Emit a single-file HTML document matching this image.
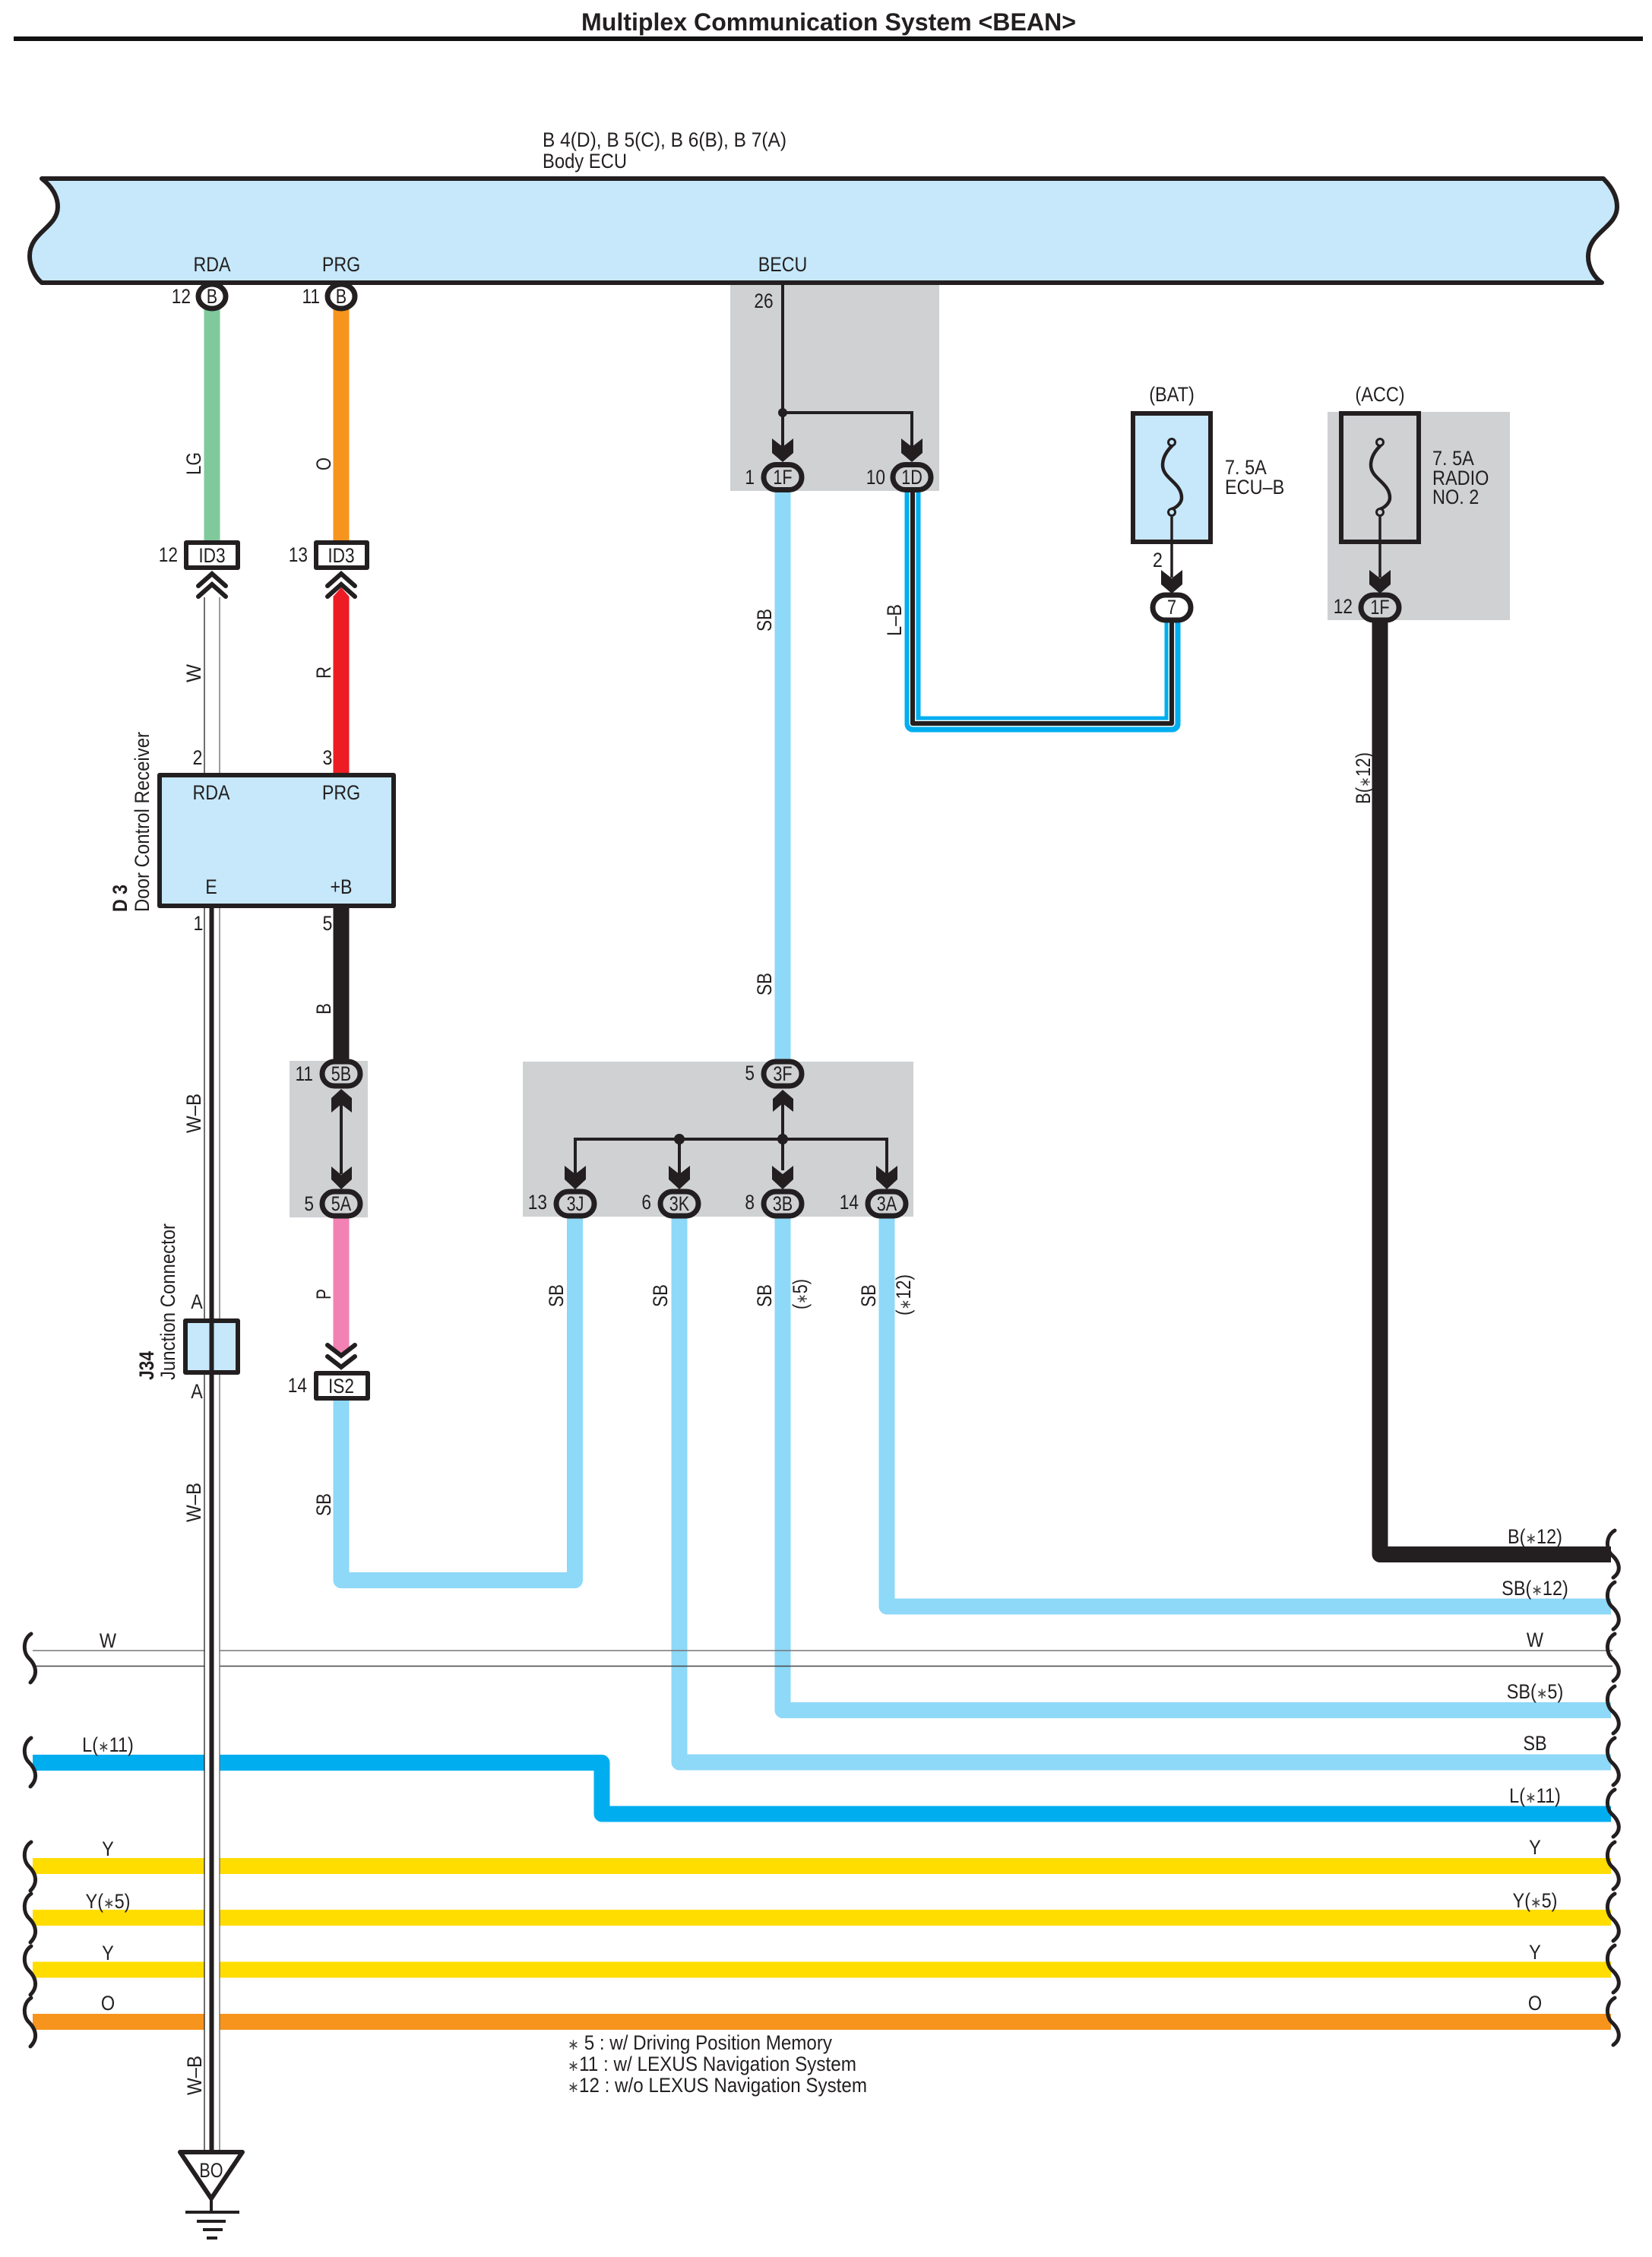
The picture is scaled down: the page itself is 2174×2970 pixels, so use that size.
<!DOCTYPE html>
<html><head><meta charset="utf-8"><title>Multiplex Communication System &lt;BEAN&gt;</title>
<style>
html,body{margin:0;padding:0;background:#fff}
svg{display:block}
text{font-family:"Liberation Sans","DejaVu Sans",sans-serif;font-size:27px;fill:#231F20}
tspan{font-size:20px;fill:#444}
.c{text-anchor:middle}.r{text-anchor:end}.b{font-weight:bold}
.w{fill:none;stroke-linejoin:round;stroke-width:21}
.k{fill:none;stroke:#231F20;stroke-width:4}
.p{stroke:#231F20;stroke-width:7;fill:#CFD1D3}
.n{fill:none;stroke:#231F20;stroke-width:5;stroke-linecap:round}
</style></head><body>
<svg xmlns="http://www.w3.org/2000/svg" width="2174" height="2970" viewBox="0 0 2174 2970">
<rect width="2174" height="2970" fill="#fff"/>
<!-- title -->
<text class="b" x="765" y="40" style="font-size:32px" textLength="651" lengthAdjust="spacingAndGlyphs">Multiplex Communication System &lt;BEAN&gt;</text>
<rect x="18" y="48" width="2144" height="6" fill="#111"/>
<!-- gray boxes -->
<g fill="#CFD1D3">
<rect x="961" y="372" width="275" height="274"/>
<rect x="1747" y="542" width="240" height="274"/>
<rect x="381" y="1396" width="103" height="206"/>
<rect x="688" y="1397" width="514" height="204"/>
</g>
<!-- Body ECU -->
<text x="714" y="193" textLength="321" lengthAdjust="spacingAndGlyphs">B 4(D), B 5(C), B 6(B), B 7(A)</text>
<text x="714" y="221" textLength="111" lengthAdjust="spacingAndGlyphs">Body ECU</text>
<path d="M55,235 C68,245 76,258 76,272 C76,300 39,305 39,337 C39,350 46,365 55,372 L2108,372 C2098,365 2090,352 2090,338 C2090,305 2128,300 2128,272 C2128,258 2120,245 2110,235 Z" fill="#C6E8FA" stroke="#231F20" stroke-width="6" stroke-linejoin="round"/>
<g>
<text class="c" transform="matrix(.86 0 0 1 279 357)">RDA</text>
<text class="c" transform="matrix(.86 0 0 1 449 357)">PRG</text>
<text class="c" transform="matrix(.86 0 0 1 1030 357)">BECU</text>
</g>
<!-- colored vertical wires -->
<path class="w" stroke="#80C99B" d="M279,405V714"/>
<path class="w" stroke="#F7941D" d="M449,405V714"/>
<polygon fill="#ED1C24" points="438.5,1020 438.5,785 449,773 459.5,785 459.5,1020"/>
<path class="w" stroke="#231F20" d="M449,1192V1400"/>
<polygon fill="#F282B4" points="438.5,1600 459.5,1600 459.5,1772 449,1782 438.5,1772"/>
<!-- SB wires -->
<g>
<path class="w" stroke="#8ED8F8" d="M449,1843V2079.5H756.5V1600"/>
<path class="w" stroke="#8ED8F8" d="M1030,645V1396"/>
<path class="w" stroke="#8ED8F8" d="M894,1600V2319H2120"/>
<path class="w" stroke="#8ED8F8" d="M1030,1600V2250.5H2120"/>
<path class="w" stroke="#8ED8F8" d="M1167,1600V2114H2120"/>
<path class="w" stroke="#231F20" d="M1816,816V2045.5H2120"/>
<path class="w" stroke="#00AEEF" d="M1201,645V953H1543V816"/>
<path fill="none" stroke="#E8F6FC" stroke-width="9" stroke-linejoin="round" d="M1201,645V952H1542V816"/>
<path fill="none" stroke="#231F20" stroke-width="6" stroke-linejoin="round" d="M1201,645V952H1542V816"/>
<!-- W pair horizontal -->
<path d="M43,2172H2122" stroke="#777" stroke-width="1.5" fill="none"/>
<path d="M43,2192.5H2122" stroke="#444" stroke-width="1.5" fill="none"/>
<path class="w" stroke="#00AEEF" d="M43,2319.5H792V2387H2120"/>
<path class="w" stroke="#FFDD00" d="M43,2455.5H2120"/>
<path class="w" stroke="#FFDD00" d="M43,2523.5H2120"/>
<path class="w" stroke="#FFDD00" d="M43,2592H2120"/>
<path class="w" stroke="#F7941D" d="M43,2660.5H2120"/>
</g>
<!-- W-B vertical pair and W wire -->
<rect x="269" y="786" width="20" height="2050" fill="#fff"/>
<path d="M269,786V2836" stroke="#222" stroke-width="1.3"/>
<path d="M289,786V2836" stroke="#666" stroke-width="1.3"/>
<rect x="275.5" y="1195" width="6" height="1640" fill="#231F20"/>
<!-- wave breaks left -->
<g>
<path class="n" d="M41,2150 C30,2157 30,2174 38,2182 C48,2192 50,2204 40,2214"/>
<path class="n" d="M41,2287 C30,2294 30,2311 38,2319 C48,2329 50,2341 40,2351"/>
<path class="n" d="M41,2424 C30,2431 30,2448 38,2456 C48,2466 50,2478 40,2488"/>
<path class="n" d="M41,2492 C30,2499 30,2516 38,2524 C48,2534 50,2546 40,2556"/>
<path class="n" d="M41,2561 C30,2568 30,2585 38,2593 C48,2603 50,2615 40,2625"/>
<path class="n" d="M41,2629 C30,2636 30,2653 38,2661 C48,2671 50,2683 40,2693"/>
<!-- wave breaks right -->
<path class="n" d="M2125,2014 C2113,2021 2113,2038 2121,2046 C2132,2056 2134,2068 2123,2076"/>
<path class="n" d="M2125,2082 C2113,2089 2113,2106 2121,2114 C2132,2124 2134,2136 2123,2144"/>
<path class="n" d="M2125,2150 C2113,2157 2113,2174 2121,2182 C2132,2192 2134,2204 2123,2212"/>
<path class="n" d="M2125,2219 C2113,2226 2113,2243 2121,2251 C2132,2261 2134,2273 2123,2281"/>
<path class="n" d="M2125,2287 C2113,2294 2113,2311 2121,2319 C2132,2329 2134,2341 2123,2349"/>
<path class="n" d="M2125,2355 C2113,2362 2113,2379 2121,2387 C2132,2397 2134,2409 2123,2417"/>
<path class="n" d="M2125,2424 C2113,2431 2113,2448 2121,2456 C2132,2466 2134,2478 2123,2486"/>
<path class="n" d="M2125,2492 C2113,2499 2113,2516 2121,2524 C2132,2534 2134,2546 2123,2554"/>
<path class="n" d="M2125,2560 C2113,2567 2113,2584 2121,2592 C2132,2602 2134,2614 2123,2622"/>
<path class="n" d="M2125,2629 C2113,2636 2113,2653 2121,2661 C2132,2671 2134,2683 2123,2691"/>
</g>
<!-- thin black connection lines -->
<path class="k" d="M1030,372V590M1030,543H1200V590"/>
<circle cx="1030" cy="543" r="6" fill="#231F20"/>
<path class="k" d="M1030,1450V1540M757,1555V1499H1167V1555M894,1499V1555"/>
<circle cx="894" cy="1499" r="7" fill="#231F20"/><circle cx="1030" cy="1499" r="7" fill="#231F20"/>
<path class="k" d="M449,1450V1545"/>
<!-- arrowheads -->
<g fill="#231F20">
<polygon points="1016,577 1030,588 1044,577 1044,596 1030,608 1016,596"/>
<polygon points="1186,577 1200,588 1214,577 1214,596 1200,608 1186,596"/>
<polygon points="1528,750 1542,761 1556,750 1556,769 1542,781 1528,769"/>
<polygon points="1802,750 1816,761 1830,750 1830,769 1816,781 1802,769"/>
<polygon points="436,1464 449,1453 463,1464 463,1445 449,1433 436,1445"/>
<polygon points="436,1535 449,1546 463,1535 463,1552 449,1565 436,1552"/>
<polygon points="1017,1463 1030,1452 1044,1463 1044,1446 1030,1434 1017,1446"/>
<polygon points="743,1534 757,1545 771,1534 771,1552 757,1565 743,1552"/>
<polygon points="880,1534 894,1545 908,1534 908,1552 894,1565 880,1552"/>
<polygon points="1016,1534 1030,1545 1044,1534 1044,1552 1030,1565 1016,1552"/>
<polygon points="1153,1534 1167,1545 1181,1534 1181,1552 1167,1565 1153,1552"/>
</g>
<!-- chevrons -->
<g fill="none" stroke="#231F20" stroke-width="6" stroke-linecap="round">
<path d="M261,771 L279,755 L297,771M261,785 L279,769 L297,785"/>
<path d="M431,771 L449,755 L467,771M431,785 L449,769 L467,785"/>
<path d="M431,1770 L449,1784 L467,1770M431,1785 L449,1799 L467,1785"/>
</g>
<!-- circle connectors -->
<g fill="#fff" stroke="#231F20" stroke-width="7">
<ellipse cx="279" cy="390" rx="18" ry="16"/>
<ellipse cx="449" cy="390" rx="18" ry="16"/>
</g>
<text class="c" transform="matrix(.8 0 0 1 279 399)">B</text>
<text class="c" transform="matrix(.8 0 0 1 449 399)">B</text>
<text class="r" transform="matrix(.84 0 0 1 251 399)">12</text>
<text class="r" transform="matrix(.84 0 0 1 421 399)">11</text>
<!-- ID3 boxes -->
<g fill="#fff" stroke="#231F20" stroke-width="6" stroke-linejoin="round">
<rect x="245" y="714" width="68" height="33"/>
<rect x="416" y="714" width="67" height="33"/>
<rect x="416" y="1807" width="68" height="33"/>
</g>
<g>
<text class="c" transform="matrix(.84 0 0 1 279 740)">ID3</text>
<text class="c" transform="matrix(.84 0 0 1 449 740)">ID3</text>
<text class="r" transform="matrix(.84 0 0 1 234 739)">12</text>
<text class="r" transform="matrix(.84 0 0 1 405 739)">13</text>
<text class="c" transform="matrix(.84 0 0 1 449 1833)">IS2</text>
<text class="r" transform="matrix(.84 0 0 1 404 1832)">14</text>
</g>
<!-- pills -->
<rect class="p" x="1005" y="611.5" width="50" height="33" rx="16.5"/>
<rect class="p" x="1175" y="611.5" width="50" height="33" rx="16.5"/>
<rect x="1517" y="783" width="50" height="33" rx="16.5" fill="#fff" stroke="#231F20" stroke-width="7"/>
<rect class="p" x="1791" y="783" width="50" height="33" rx="16.5"/>
<rect class="p" x="424" y="1397" width="50" height="32" rx="16"/>
<rect class="p" x="424" y="1568" width="50" height="32" rx="16"/>
<rect class="p" x="1005" y="1397" width="50" height="32" rx="16"/>
<rect class="p" x="732" y="1568" width="50" height="32" rx="16"/>
<rect class="p" x="869" y="1568" width="50" height="32" rx="16"/>
<rect class="p" x="1005" y="1568" width="50" height="32" rx="16"/>
<rect class="p" x="1142" y="1568" width="50" height="32" rx="16"/>
<g>
<text class="c" transform="matrix(.8 0 0 1 1030 637)">1F</text>
<text class="c" transform="matrix(.8 0 0 1 1200 637)">1D</text>
<text class="c" transform="matrix(.8 0 0 1 1542 808)">7</text>
<text class="c" transform="matrix(.8 0 0 1 1816 808)">1F</text>
<text class="c" transform="matrix(.8 0 0 1 449 1422)">5B</text>
<text class="c" transform="matrix(.8 0 0 1 449 1593)">5A</text>
<text class="c" transform="matrix(.8 0 0 1 1030 1422)">3F</text>
<text class="c" transform="matrix(.8 0 0 1 757 1593)">3J</text>
<text class="c" transform="matrix(.8 0 0 1 894 1593)">3K</text>
<text class="c" transform="matrix(.8 0 0 1 1030 1593)">3B</text>
<text class="c" transform="matrix(.8 0 0 1 1167 1593)">3A</text>
<text class="r" transform="matrix(.84 0 0 1 993 637)">1</text>
<text class="r" transform="matrix(.84 0 0 1 1165 637)">10</text>
<text class="r" transform="matrix(.84 0 0 1 1780 807)">12</text>
<text class="r" transform="matrix(.84 0 0 1 412 1422)">11</text>
<text class="r" transform="matrix(.84 0 0 1 413 1593)">5</text>
<text class="r" transform="matrix(.84 0 0 1 993 1421)">5</text>
<text class="r" transform="matrix(.84 0 0 1 720 1591)">13</text>
<text class="r" transform="matrix(.84 0 0 1 857 1591)">6</text>
<text class="r" transform="matrix(.84 0 0 1 993 1591)">8</text>
<text class="r" transform="matrix(.84 0 0 1 1130 1591)">14</text>
<text class="c" transform="matrix(.84 0 0 1 1005 405)">26</text>
</g>
<!-- fuses -->
<rect x="1491" y="544" width="102" height="169" fill="#C6E8FA" stroke="#231F20" stroke-width="6"/>
<rect x="1765" y="544" width="102" height="169" fill="#CFD1D3" stroke="#231F20" stroke-width="6"/>
<g fill="none" stroke="#231F20" stroke-width="4.5" stroke-linecap="round">
<path d="M1542,587 C1534,595 1530,603 1530,612 C1530,630 1555,635 1555,655 C1555,662 1548,668 1542,670"/>
<path d="M1816,587 C1808,595 1804,603 1804,612 C1804,630 1829,635 1829,655 C1829,662 1822,668 1816,670"/>
</g>
<path d="M1542,680V760M1816,680V760" stroke="#231F20" stroke-width="3.5" fill="none"/>
<g stroke="#231F20" stroke-width="3">
<circle cx="1542" cy="582" r="4.5" fill="#C6E8FA"/><circle cx="1542" cy="674" r="4.5" fill="#C6E8FA"/>
<circle cx="1816" cy="582" r="4.5" fill="#CFD1D3"/><circle cx="1816" cy="674" r="4.5" fill="#CFD1D3"/>
</g>
<g>
<text class="c" transform="matrix(.87 0 0 1 1542 528)">(BAT)</text>
<text class="c" transform="matrix(.87 0 0 1 1816 528)">(ACC)</text>
<text transform="matrix(.87 0 0 1 1612 624)">7. 5A</text>
<text transform="matrix(.87 0 0 1 1612 650)">ECU–B</text>
<text class="r" transform="matrix(.87 0 0 1 1530 746)">2</text>
<text transform="matrix(.87 0 0 1 1885 612)">7. 5A</text>
<text transform="matrix(.87 0 0 1 1885 638)">RADIO</text>
<text transform="matrix(.87 0 0 1 1885 663)">NO. 2</text>
</g>
<!-- Door control receiver -->
<rect x="210" y="1020" width="308" height="172" fill="#C6E8FA" stroke="#231F20" stroke-width="6" stroke-linejoin="round"/>
<g>
<text class="c" transform="matrix(.86 0 0 1 278 1052)">RDA</text>
<text class="c" transform="matrix(.86 0 0 1 449 1052)">PRG</text>
<text class="c" transform="matrix(.86 0 0 1 278 1176)">E</text>
<text class="c" transform="matrix(.86 0 0 1 449 1176)">+B</text>
<text class="c" transform="matrix(.86 0 0 1 260 1006)">2</text>
<text class="c" transform="matrix(.86 0 0 1 431 1006)">3</text>
<text class="c" transform="matrix(.86 0 0 1 261 1224)">1</text>
<text class="c" transform="matrix(.86 0 0 1 431 1224)">5</text>
</g>
<text transform="translate(167,1200) rotate(-90)" style="font-weight:bold" textLength="36" lengthAdjust="spacingAndGlyphs">D 3</text>
<text transform="translate(196,1200) rotate(-90)" textLength="237" lengthAdjust="spacingAndGlyphs">Door Control Receiver</text>
<!-- J34 -->
<rect x="244" y="1738" width="69" height="68" fill="#C6E8FA" stroke="#231F20" stroke-width="6" stroke-linejoin="round"/>
<rect x="275.5" y="1735" width="6" height="74" fill="#231F20"/>
<text class="c" transform="matrix(.86 0 0 1 259 1722)">A</text>
<text class="c" transform="matrix(.86 0 0 1 259 1840)">A</text>
<text transform="translate(202,1816) rotate(-90)" style="font-weight:bold" textLength="38" lengthAdjust="spacingAndGlyphs">J34</text>
<text transform="translate(230,1816) rotate(-90)" textLength="206" lengthAdjust="spacingAndGlyphs">Junction Connector</text>
<!-- rotated wire labels -->
<g>
<text transform="translate(264,625) rotate(-90)" textLength="30" lengthAdjust="spacingAndGlyphs">LG</text>
<text transform="translate(435,619) rotate(-90)" textLength="17" lengthAdjust="spacingAndGlyphs">O</text>
<text transform="translate(264,898) rotate(-90)" textLength="24" lengthAdjust="spacingAndGlyphs">W</text>
<text transform="translate(435,893) rotate(-90)" textLength="16" lengthAdjust="spacingAndGlyphs">R</text>
<text transform="translate(435,1335) rotate(-90)" textLength="15" lengthAdjust="spacingAndGlyphs">B</text>
<text transform="translate(264,1491) rotate(-90)" textLength="52" lengthAdjust="spacingAndGlyphs">W–B</text>
<text transform="translate(264,2003) rotate(-90)" textLength="52" lengthAdjust="spacingAndGlyphs">W–B</text>
<text transform="translate(265,2757) rotate(-90)" textLength="52" lengthAdjust="spacingAndGlyphs">W–B</text>
<text transform="translate(435,1710) rotate(-90)" textLength="14" lengthAdjust="spacingAndGlyphs">P</text>
<text transform="translate(435,1995) rotate(-90)" textLength="30" lengthAdjust="spacingAndGlyphs">SB</text>
<text transform="translate(1015,831) rotate(-90)" textLength="30" lengthAdjust="spacingAndGlyphs">SB</text>
<text transform="translate(1015,1310) rotate(-90)" textLength="30" lengthAdjust="spacingAndGlyphs">SB</text>
<text transform="translate(1186,837) rotate(-90)" textLength="42" lengthAdjust="spacingAndGlyphs">L–B</text>
<text transform="translate(741,1720) rotate(-90)" textLength="30" lengthAdjust="spacingAndGlyphs">SB</text>
<text transform="translate(878,1720) rotate(-90)" textLength="30" lengthAdjust="spacingAndGlyphs">SB</text>
<text transform="translate(1015,1720) rotate(-90)" textLength="30" lengthAdjust="spacingAndGlyphs">SB</text>
<text transform="translate(1152,1720) rotate(-90)" textLength="30" lengthAdjust="spacingAndGlyphs">SB</text>
<text transform="translate(1062,1723) rotate(-90)" textLength="40" lengthAdjust="spacingAndGlyphs">(<tspan>∗</tspan>5)</text>
<text transform="translate(1198,1731) rotate(-90)" textLength="54" lengthAdjust="spacingAndGlyphs">(<tspan>∗</tspan>12)</text>
<text transform="translate(1803,1058) rotate(-90)" textLength="68" lengthAdjust="spacingAndGlyphs">B(<tspan>∗</tspan>12)</text>
</g>
<!-- left bus labels -->
<g>
<text class="c" transform="matrix(.87 0 0 1 142 2168)">W</text>
<text class="c" transform="matrix(.87 0 0 1 142 2305)">L(<tspan>∗</tspan>11)</text>
<text class="c" transform="matrix(.87 0 0 1 142 2442)">Y</text>
<text class="c" transform="matrix(.87 0 0 1 142 2511)">Y(<tspan>∗</tspan>5)</text>
<text class="c" transform="matrix(.87 0 0 1 142 2579)">Y</text>
<text class="c" transform="matrix(.87 0 0 1 142 2645)">O</text>
<!-- right bus labels -->
<text class="c" transform="matrix(.87 0 0 1 2020 2031)">B(<tspan>∗</tspan>12)</text>
<text class="c" transform="matrix(.87 0 0 1 2020 2099)">SB(<tspan>∗</tspan>12)</text>
<text class="c" transform="matrix(.87 0 0 1 2020 2167)">W</text>
<text class="c" transform="matrix(.87 0 0 1 2020 2235)">SB(<tspan>∗</tspan>5)</text>
<text class="c" transform="matrix(.87 0 0 1 2020 2303)">SB</text>
<text class="c" transform="matrix(.87 0 0 1 2020 2372)">L(<tspan>∗</tspan>11)</text>
<text class="c" transform="matrix(.87 0 0 1 2020 2440)">Y</text>
<text class="c" transform="matrix(.87 0 0 1 2020 2510)">Y(<tspan>∗</tspan>5)</text>
<text class="c" transform="matrix(.87 0 0 1 2020 2578)">Y</text>
<text class="c" transform="matrix(.87 0 0 1 2020 2645)">O</text>
</g>
<!-- footnotes -->
<text x="747" y="2697" textLength="348" lengthAdjust="spacingAndGlyphs"><tspan>∗</tspan> 5 : w/ Driving Position Memory</text>
<text x="747" y="2725" textLength="380" lengthAdjust="spacingAndGlyphs"><tspan>∗</tspan>11 : w/ LEXUS Navigation System</text>
<text x="747" y="2753" textLength="394" lengthAdjust="spacingAndGlyphs"><tspan>∗</tspan>12 : w/o LEXUS Navigation System</text>
<!-- ground -->
<polygon points="237,2832 319,2832 278,2893" fill="#fff" stroke="#231F20" stroke-width="6" stroke-linejoin="round"/>
<text class="c" transform="matrix(.8 0 0 1 278 2865)">BO</text>
<path d="M278,2893V2911M244,2911H315M259,2923H297M267,2934H293M272,2945H286" stroke="#231F20" stroke-width="4" fill="none"/>
</svg>
</body></html>
